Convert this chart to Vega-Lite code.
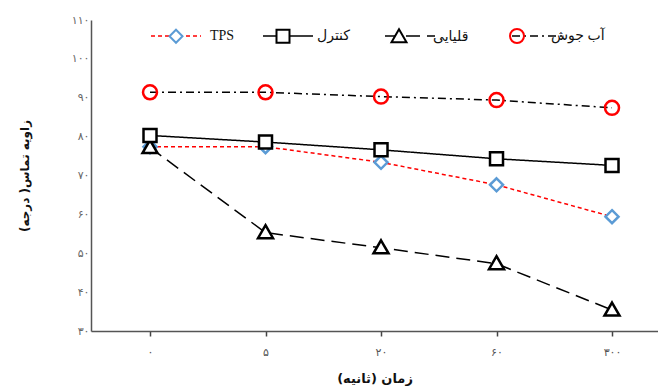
{
  "$schema": "https://vega.github.io/schema/vega-lite/v6.json",
  "autosize": "none",
  "width": 567,
  "height": 311,
  "padding": {"left": 91, "top": 20, "right": 0, "bottom": 59},
  "config": {
    "view": {"stroke": null},
    "font": "Liberation Serif, DejaVu Sans"
  },
  "data": {
    "values": [
      {"series": "TPS", "time": "۰", "value": 77.4},
      {"series": "TPS", "time": "۵", "value": 77.4},
      {"series": "TPS", "time": "۲۰", "value": 73.4},
      {"series": "TPS", "time": "۶۰", "value": 67.6},
      {"series": "TPS", "time": "۳۰۰", "value": 59.4},
      {"series": "قلیایی", "time": "۰", "value": 77.2},
      {"series": "قلیایی", "time": "۵", "value": 55.3},
      {"series": "قلیایی", "time": "۲۰", "value": 51.4},
      {"series": "قلیایی", "time": "۶۰", "value": 47.3},
      {"series": "قلیایی", "time": "۳۰۰", "value": 35.4},
      {"series": "کنترل", "time": "۰", "value": 80.3},
      {"series": "کنترل", "time": "۵", "value": 78.6},
      {"series": "کنترل", "time": "۲۰", "value": 76.6},
      {"series": "کنترل", "time": "۶۰", "value": 74.3},
      {"series": "کنترل", "time": "۳۰۰", "value": 72.6},
      {"series": "آب جوش", "time": "۰", "value": 91.4},
      {"series": "آب جوش", "time": "۵", "value": 91.4},
      {"series": "آب جوش", "time": "۲۰", "value": 90.3},
      {"series": "آب جوش", "time": "۶۰", "value": 89.4},
      {"series": "آب جوش", "time": "۳۰۰", "value": 87.4}
    ]
  },
  "encoding": {
    "x": {
      "field": "time",
      "type": "nominal",
      "sort": ["۰", "۵", "۲۰", "۶۰", "۳۰۰"],
      "scale": {"type": "point", "padding": 0.4545, "align": 0.562},
      "axis": {
        "title": "زمان (ثانیه)",
        "titleFont": "DejaVu Sans",
        "titleFontSize": 13,
        "titleFontWeight": "bold",
        "titleColor": "#111",
        "titlePadding": 15,
        "labelAngle": 0,
        "labelFont": "DejaVu Sans",
        "labelFontSize": 11,
        "labelColor": "#555",
        "labelPadding": 10,
        "tickSize": 5,
        "tickColor": "#444",
        "tickWidth": 1.5,
        "domainColor": "#555",
        "domainWidth": 1.5,
        "grid": false
      }
    },
    "y": {
      "field": "value",
      "type": "quantitative",
      "scale": {"domain": [30, 110], "nice": false, "zero": false},
      "axis": {
        "title": "زاویه تماس( درجه)",
        "titleFont": "DejaVu Sans",
        "titleFontSize": 12,
        "titleFontWeight": "bold",
        "titleColor": "#111",
        "titlePadding": 40,
        "values": [30, 40, 50, 60, 70, 80, 90, 100, 110],
        "labelExpr": "replace(replace(replace(replace(replace(replace(replace(replace(replace(datum.label, /0/g, '۰'), /1/g, '۱'), /3/g, '۳'), /4/g, '۴'), /5/g, '۵'), /6/g, '۶'), /7/g, '۷'), /8/g, '۸'), /9/g, '۹')",
        "labelFont": "DejaVu Sans",
        "labelFontSize": 11,
        "labelColor": "#666",
        "labelPadding": 2,
        "ticks": false,
        "domainColor": "#555",
        "domainWidth": 1.5,
        "grid": false
      }
    }
  },
  "layer": [
    {
      "mark": {"type": "line", "strokeWidth": 1.5},
      "encoding": {
        "color": {
          "field": "series",
          "type": "nominal",
          "scale": {
            "domain": ["TPS", "کنترل", "قلیایی", "آب جوش"],
            "range": ["#ff0000", "#000000", "#000000", "#000000"]
          },
          "legend": {
            "title": null,
            "orient": "none",
            "legendX": 59,
            "legendY": -10,
            "direction": "horizontal",
            "symbolType": "stroke",
            "symbolSize": 2500,
            "symbolStrokeWidth": 1.5,
            "labelOpacity": 0,
            "labelFont": "Liberation Serif, DejaVu Sans",
            "labelFontSize": 14,
            "labelOffset": 8,
            "columnPadding": 22,
            "encode": {
              "labels": {
                "update": {
                  "fontWeight": {"value": {"expr": "datum.value === 'TPS' ? 'bold' : 'normal'"}}
                }
              }
            }
          }
        },
        "strokeDash": {
          "field": "series",
          "type": "nominal",
          "scale": {
            "domain": ["TPS", "کنترل", "قلیایی", "آب جوش"],
            "range": [[4, 3], [1, 0], [14, 7], [8, 4, 2, 4]]
          }
        }
      }
    },
    {
      "mark": {"type": "point", "size": 2500, "strokeWidth": 2.5, "opacity": 1},
      "encoding": {
        "shape": {
          "field": "series",
          "type": "nominal",
          "scale": {
            "domain": ["TPS", "کنترل", "قلیایی", "آب جوش", " "],
            "range": [
              "M0,-0.26L0.26,0L0,0.26L-0.26,0Z",
              "M-0.26,-0.26L0.26,-0.26L0.26,0.26L-0.26,0.26Z",
              "M0,-0.3L0.3,0.22L-0.3,0.22Z",
              "M0.28,0A0.28,0.28,0,1,1,-0.28,0A0.28,0.28,0,1,1,0.28,0Z",
              "M0,0Z"
            ]
          },
          "legend": {
            "title": null,
            "values": ["TPS", "کنترل", "قلیایی", "آب جوش"],
            "orient": "none",
            "legendX": 59,
            "legendY": -10,
            "direction": "horizontal",
            "symbolSize": 2500,
            "symbolStrokeWidth": 2,
            "labelFont": "Liberation Serif, DejaVu Sans",
            "labelFontSize": 14,
            "labelColor": "#111",
            "labelOffset": 8,
            "columnPadding": 22,
            "encode": {
              "labels": {
                "update": {
                  "fontWeight": {"value": {"expr": "datum.value === 'TPS' ? 'bold' : 'normal'"}}
                }
              }
            }
          }
        },
        "stroke": {
          "field": "series",
          "type": "nominal",
          "scale": {
            "domain": ["TPS", "کنترل", "قلیایی", "آب جوش", " "],
            "range": ["#5b9bd5", "#000000", "#000000", "#ff0000", "#000000"]
          }
        },
        "fill": {
          "field": "series",
          "type": "nominal",
          "scale": {
            "domain": ["TPS", "کنترل", "قلیایی", "آب جوش", " "],
            "range": ["#ffffff", "#ffffff", "#ffffff", "transparent", "#ffffff"]
          }
        }
      }
    }
  ]
}
